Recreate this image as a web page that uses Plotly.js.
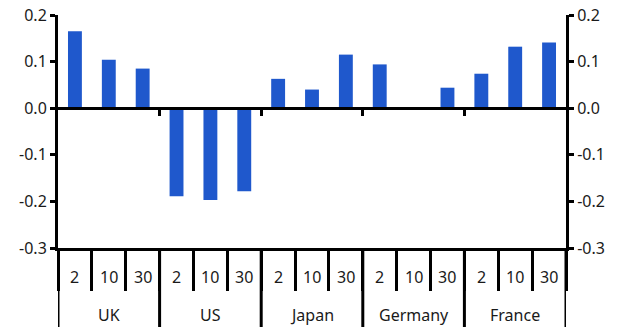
<!DOCTYPE html>
<html>
<head>
<meta charset="utf-8">
<script src="https://cdn.plot.ly/plotly-3.0.1.min.js"></script>
<style>html,body{margin:0;padding:0;background:#fff;}#chart{width:626px;height:336px;}</style>
</head>
<body>
<div id="chart"></div>
<script>
const countries = ["UK", "UK", "UK", "US", "US", "US", "Japan", "Japan", "Japan", "Germany", "Germany", "Germany", "France", "France", "France"];
const maturities = ["2", "10", "30", "2", "10", "30", "2", "10", "30", "2", "10", "30", "2", "10", "30"];
const values = [0.165, 0.104, 0.085, -0.189, -0.197, -0.178, 0.063, 0.040, 0.115, 0.094, 0.0, 0.044, 0.074, 0.132, 0.141];
const yTicks = [-0.3, -0.2, -0.1, 0.0, 0.1, 0.2];
const yTickText = ["-0.3", "-0.2", "-0.1", "0.0", "0.1", "0.2"];

const font = {family: "Noto Sans, Open Sans, sans-serif", size: 16, color: "#1a1a1a"};

// group structure derived from the category arrays
const groups = [];
countries.forEach((c, i) => {
  const last = groups[groups.length - 1];
  if (last && last.name === c) last.end = i; else groups.push({name: c, start: i, end: i});
});
const groupEdges = [groups[0].start - 0.5].concat(groups.map(g => g.end + 0.5));
const innerEdges = groupEdges.slice(1, -1);

const traces = [
  {type: "bar", x: [countries, maturities], y: values, marker: {color: "#1f58cc"}, hoverinfo: "skip"},
  {type: "scatter", mode: "markers", x: [], y: [], xaxis: "x2", yaxis: "y", hoverinfo: "skip", showlegend: false},
  {type: "scatter", mode: "markers", x: [], y: [], xaxis: "x", yaxis: "y2", hoverinfo: "skip", showlegend: false}
];

const annotations = [];
maturities.forEach((m, i) => annotations.push({
  xref: "x2", yref: "paper", x: i, y: -0.124, text: m, showarrow: false,
  xanchor: "center", yanchor: "middle", font: font
}));
groups.forEach(g => annotations.push({
  xref: "x2", yref: "paper", x: (g.start + g.end) / 2, y: -0.288, text: g.name, showarrow: false,
  xanchor: "center", yanchor: "middle", font: font
}));

const shapes = groupEdges.map(e => ({
  type: "line", xref: "x2", yref: "paper", x0: e, x1: e, y0: 0, y1: -0.339,
  line: {color: "#000", width: 3}
}));

const yCommon = {
  range: [-0.3, 0.2],
  tickvals: yTicks,
  ticktext: yTickText,
  ticks: "outside",
  ticklen: 5,
  tickwidth: 3,
  tickcolor: "#000",
  showline: true,
  linewidth: 3,
  linecolor: "#000",
  showgrid: false,
  zeroline: false,
  tickfont: font
};

const layout = {
  width: 626,
  height: 336,
  margin: {l: 58, r: 60, t: 15, b: 88},
  paper_bgcolor: "#fff",
  plot_bgcolor: "#fff",
  showlegend: false,
  bargap: 0.59,
  font: font,
  xaxis: {
    type: "multicategory",
    ticks: "outside",
    tickson: "boundaries",
    ticklen: 40,
    tickwidth: 3,
    tickcolor: "#000",
    showticklabels: false,
    showline: true,
    linewidth: 3,
    linecolor: "#000",
    showdividers: false,
    showgrid: false
  },
  xaxis2: {
    overlaying: "x",
    anchor: "free",
    position: 0.6,
    range: [-0.5, 14.5],
    tickvals: innerEdges,
    ticks: "outside",
    ticklen: 6,
    tickwidth: 3,
    tickcolor: "#000",
    showticklabels: false,
    showline: true,
    linewidth: 3,
    linecolor: "#000",
    showgrid: false,
    zeroline: false
  },
  yaxis: Object.assign({side: "left"}, yCommon),
  yaxis2: Object.assign({side: "right", overlaying: "y", anchor: "x"}, yCommon),
  annotations: annotations,
  shapes: shapes
};

Plotly.newPlot("chart", traces, layout, {staticPlot: true, displayModeBar: false});
</script>
</body>
</html>
